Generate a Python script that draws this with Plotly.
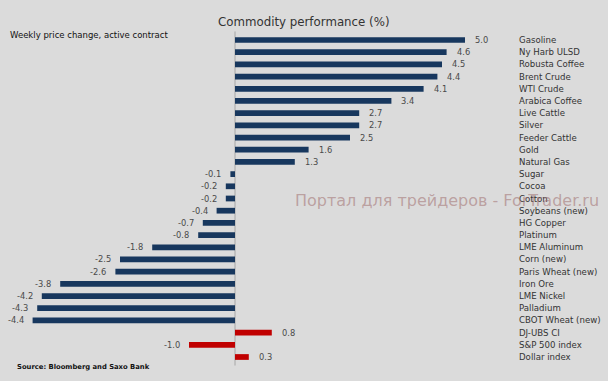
import plotly.graph_objects as go

categories = ["Gasoline", "Ny Harb ULSD", "Robusta Coffee", "Brent Crude", "WTI Crude",
              "Arabica Coffee", "Live Cattle", "Silver", "Feeder Cattle", "Gold",
              "Natural Gas", "Sugar", "Cocoa", "Cotton", "Soybeans (new)", "HG Copper",
              "Platinum", "LME Aluminum", "Corn (new)", "Paris Wheat (new)", "Iron Ore",
              "LME Nickel", "Palladium", "CBOT Wheat (new)", "DJ-UBS CI", "S&P 500 index",
              "Dollar index"]
values = [5.0, 4.6, 4.5, 4.4, 4.1, 3.4, 2.7, 2.7, 2.5, 1.6, 1.3, -0.1, -0.2, -0.2, -0.4,
          -0.7, -0.8, -1.8, -2.5, -2.6, -3.8, -4.2, -4.3, -4.4, 0.8, -1.0, 0.3]
index_names = ["DJ-UBS CI", "S&P 500 index", "Dollar index"]

NAVY = "#17375e"
RED = "#c00000"
colors = [RED if c in index_names else NAVY for c in categories]
n = len(categories)

fig = go.Figure()
fig.add_trace(go.Bar(
    x=values, y=categories, orientation="h",
    marker=dict(color=colors, line=dict(width=0)),
    width=0.47, hoverinfo="skip",
))

px_per_unit = 46.0
zero_px = 235.0
W, H = 608, 381
row0 = 40.0
row_step = (357.0 - 40.0) / (n - 1)

fig.update_xaxes(range=[-zero_px / px_per_unit, (W - zero_px) / px_per_unit],
                 visible=False, fixedrange=True)
fig.update_yaxes(type="category", categoryorder="array", categoryarray=categories,
                 range=[(H - row0) / row_step, -row0 / row_step], visible=False,
                 fixedrange=True)

# value labels
for c, v in zip(categories, values):
    fig.add_annotation(x=v, y=c, text=f"{v:.1f}", showarrow=False,
                       xanchor="left" if v >= 0 else "right",
                       xshift=8 if v >= 0 else -7,
                       font=dict(size=8.3, color="#4a4a4a", family="DejaVu Sans"))

label_x = (517 - zero_px) / px_per_unit
for c in categories:
    fig.add_annotation(x=label_x, y=c, text=c, showarrow=False, xanchor="left",
                       font=dict(size=8.6, color="#333333", family="DejaVu Sans"))

fig.add_shape(type="line", x0=0, x1=0, y0=-0.7, y1=n - 0.3, xref="x", yref="y",
              line=dict(color="#a6a6a6", width=1), layer="below")

fig.add_annotation(x=304 / W, y=1 - 13 / H, xref="paper", yref="paper",
                   text="Commodity performance (%)", showarrow=False,
                   font=dict(size=11.8, color="#333333", family="DejaVu Sans"))
fig.add_annotation(x=8 / W, y=1 - 28 / H, xref="paper", yref="paper", xanchor="left",
                   text="Weekly price change, active contract", showarrow=False,
                   font=dict(size=8.5, color="#111111", family="DejaVu Sans"))
fig.add_annotation(x=15 / W, y=1 - 373 / H, xref="paper", yref="paper", xanchor="left",
                   text="<b>Source: Bloomberg and Saxo Bank</b>", showarrow=False,
                   font=dict(size=6.8, color="#111111", family="DejaVu Sans"))
fig.add_annotation(x=293 / W, y=1 - 201 / H, xref="paper", yref="paper", xanchor="left",
                   text="Портал для трейдеров - ForTrader.ru", showarrow=False,
                   font=dict(size=16, color="rgba(160,110,110,0.55)", family="DejaVu Sans"))

fig.update_layout(
    width=W, height=H, margin=dict(l=0, r=0, t=0, b=0),
    paper_bgcolor="#dbdbdb", plot_bgcolor="#dbdbdb",
    showlegend=False, bargap=0.5,
)
fig.write_html("out.html", config={"displayModeBar": False},
               post_script="document.body.style.margin='0';")
